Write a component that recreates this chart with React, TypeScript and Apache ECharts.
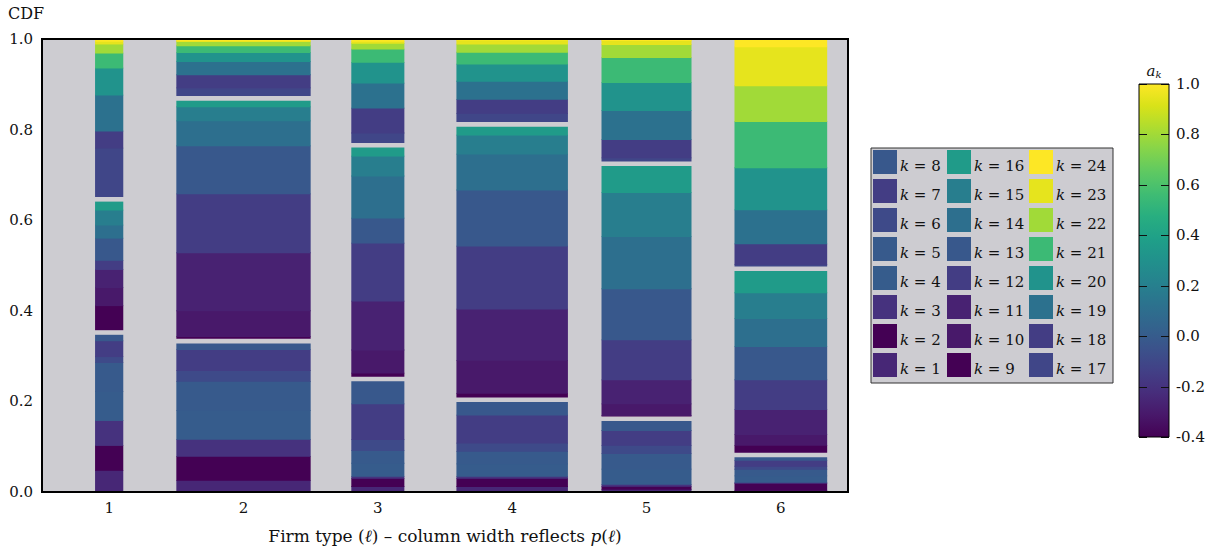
import React, { useEffect, useRef } from "react";
import * as echarts from "echarts";

// ---------------- data ----------------
const firmTypes = ["1", "2", "3", "4", "5", "6"];
// column width (share of one category band), reflects p(ℓ)
const colWidth = [0.21, 1.0, 0.395, 0.83, 0.67, 0.69];
const kValues = Array.from({ length: 24 }, (_, i) => i + 1);
// a_k for k = 1..24
const aK = [
  -0.25, -0.4, -0.2, 0.0, -0.01, -0.09, -0.15, -0.02,
  -0.4, -0.31, -0.27, -0.15, -0.02, 0.11, 0.19, 0.36,
  -0.11, -0.15, 0.12, 0.31, 0.55, 0.8, 0.945, 1.0,
];
// share of each k within firm type ℓ (k = 1..24)
const col1 = [0.0486, 0.055, 0.055, 0.064, 0.064, 0.013, 0.035, 0.0175, 0.06, 0.04, 0.04, 0.02, 0.049, 0.029, 0.033, 0.023, 0.114, 0.0375, 0.0795, 0.0596, 0.033, 0.02, 0.006, 0.005];
const col2 = [0.0265, 0.053, 0.0375, 0.064, 0.064, 0.024, 0.046, 0.018, 0.011, 0.057, 0.128, 0.13, 0.106, 0.055, 0.031, 0.018, 0.024, 0.029, 0.029, 0.02, 0.015, 0.009, 0.002, 0.002];
const col3 = [0.013, 0.018, 0.0044, 0.029, 0.028, 0.024, 0.079, 0.054, 0.014, 0.051, 0.108, 0.128, 0.055, 0.093, 0.044, 0.023, 0.028, 0.055, 0.055, 0.046, 0.029, 0.013, 0.0044, 0.002];
const col4 = [0.013, 0.018, 0.0044, 0.0276, 0.0276, 0.018, 0.062, 0.033, 0.015, 0.073, 0.113, 0.139, 0.124, 0.079, 0.042, 0.023, 0.025, 0.031, 0.04, 0.038, 0.026, 0.018, 0.009, 0.002];
const col5 = [0.0066, 0.0066, 0.0044, 0.034, 0.034, 0.018, 0.033, 0.025, 0.008, 0.026, 0.053, 0.088, 0.113, 0.115, 0.097, 0.063, 0.014, 0.04, 0.064, 0.062, 0.055, 0.029, 0.009, 0.002];
const col6 = [0.0044, 0.0155, 0.0022, 0.0145, 0.0145, 0.0066, 0.013, 0.011, 0.022, 0.024, 0.055, 0.066, 0.073, 0.062, 0.057, 0.052, 0.01, 0.046, 0.075, 0.093, 0.102, 0.079, 0.086, 0.015];
const columns = [col1, col2, col3, col4, col5, col6];
const cbarTicks = [-0.4, -0.2, 0.0, 0.2, 0.4, 0.6, 0.8, 1.0];

// ---------------- colormap ----------------
const VIRIDIS = ["#440154", "#48186a", "#472d7b", "#424086", "#3b528b", "#33638d", "#2c728e", "#26828e", "#21918c", "#1fa088", "#28ae80", "#3fbc73", "#5ec962", "#84d44b", "#addc30", "#d8e219", "#fde725"];
const A_MIN = cbarTicks[0];
const A_MAX = cbarTicks[cbarTicks.length - 1];
function hexToRgb(h: string) {
  return [parseInt(h.slice(1, 3), 16), parseInt(h.slice(3, 5), 16), parseInt(h.slice(5, 7), 16)];
}
function viridis(a: number) {
  let t = (a - A_MIN) / (A_MAX - A_MIN);
  t = Math.max(0, Math.min(1, t));
  const pos = t * (VIRIDIS.length - 1);
  const i = Math.min(VIRIDIS.length - 2, Math.floor(pos));
  const f = pos - i;
  const c0 = hexToRgb(VIRIDIS[i]);
  const c1 = hexToRgb(VIRIDIS[i + 1]);
  const c = c0.map((v, j) => Math.round(v + (c1[j] - v) * f));
  return `rgb(${c[0]},${c[1]},${c[2]})`;
}

const BG = "#cdccd1";
const FONT = "'DejaVu Serif', 'Liberation Serif', serif";
const FS = 15;
const GRID = { left: 42, top: 39, width: 806, height: 453 };
const CBAR = { left: 1139, top: 84, width: 30, height: 353 };
const fmt = (v: number) => (Math.abs(v) < 1e-9 ? "0.0" : v.toFixed(1));

export default function App() {
  const ref = useRef<HTMLDivElement>(null);
  useEffect(() => {
    if (!ref.current) return;
    const chart = echarts.init(ref.current, undefined, { renderer: "svg" });

    // segments: [ℓ index, start, end, k index]
    const segData: number[][] = [];
    const gapData: number[][] = [];
    columns.forEach((col, l) => {
      let cum = 0;
      col.forEach((v, k) => {
        segData.push([l, cum, cum + v, k]);
        cum += v;
        if (k === 7 || k === 15) gapData.push([l, cum]);
      });
    });

    const legendGraphics: any[] = [];
    const box = { x: 871, y: 148, w: 242, h: 235 };
    legendGraphics.push({
      type: "rect",
      shape: { x: box.x, y: box.y, width: box.w, height: box.h },
      style: { fill: BG, stroke: "#333", lineWidth: 1 },
      z: 10,
    });
    const colX = [873, 947, 1029];
    const txtX = [900, 974, 1056];
    kValues.forEach((k, idx) => {
      const c = Math.floor(idx / 8);
      const row = 7 - (idx % 8);
      const top = 150 + row * 29;
      legendGraphics.push({
        type: "rect",
        shape: { x: colX[c], y: top, width: 24, height: 24 },
        style: { fill: viridis(aK[idx]) },
        z: 11,
      });
      legendGraphics.push({
        type: "text",
        x: txtX[c],
        y: top + 16,
        style: {
          text: `{i|k} = ${k}`,
          fontFamily: FONT,
          fontSize: FS,
          fill: "#111",
          verticalAlign: "middle",
          rich: { i: { fontStyle: "italic", fontFamily: FONT, fontSize: FS, fill: "#111" } },
        },
        z: 11,
      });
    });

    const option: any = {
      animation: false,
      textStyle: { fontFamily: FONT },
      grid: [
        { ...GRID, show: true, backgroundColor: BG, borderWidth: 0 },
        { ...CBAR, show: false },
      ],
      xAxis: [
        {
          type: "category",
          gridIndex: 0,
          data: firmTypes,
          axisLine: { show: false },
          axisTick: { show: false },
          axisLabel: { fontFamily: FONT, fontSize: FS, color: "#111", margin: 8 },
          splitLine: { show: false },
          name: "Firm type ({i|ℓ}) – column width reflects {i|p}({i|ℓ})",
          nameLocation: "middle",
          nameGap: 35,
          nameTextStyle: {
            fontFamily: FONT,
            fontSize: 17,
            color: "#111",
            rich: { i: { fontStyle: "italic", fontFamily: FONT, fontSize: 17, color: "#111" } },
          },
        },
        { type: "value", gridIndex: 1, min: 0, max: 1, show: false },
      ],
      yAxis: [
        {
          type: "value",
          gridIndex: 0,
          min: 0,
          max: 1,
          interval: 0.2,
          axisLine: { show: false },
          axisTick: { show: false },
          splitLine: { show: false },
          axisLabel: { fontFamily: FONT, fontSize: FS, color: "#111", margin: 9, formatter: fmt },
        },
        {
          type: "value",
          gridIndex: 1,
          position: "right",
          min: A_MIN,
          max: A_MAX,
          interval: 0.2,
          axisLine: { show: false, onZero: false },
          axisTick: { show: false },
          splitLine: { show: false },
          axisLabel: { fontFamily: FONT, fontSize: FS, color: "#111", margin: 7, formatter: fmt },
        },
      ],
      series: [
        {
          type: "custom",
          xAxisIndex: 0,
          yAxisIndex: 0,
          clip: true,
          data: segData,
          renderItem: (params: any, api: any) => {
            const l = api.value(0);
            const y0 = api.value(1);
            const y1 = api.value(2);
            const k = api.value(3);
            const c = api.coord([l, 0]);
            const band = api.size([1, 0])[0];
            const w = band * colWidth[l];
            const top = api.coord([l, y1])[1];
            const bottom = api.coord([l, y0])[1] + (k > 0 ? 0.8 : 0);
            return {
              type: "rect",
              shape: { x: c[0] - w / 2, y: top, width: w, height: bottom - top },
              style: { fill: viridis(aK[k]) },
            };
          },
        },
        {
          type: "custom",
          xAxisIndex: 0,
          yAxisIndex: 0,
          clip: true,
          z: 3,
          data: gapData,
          renderItem: (params: any, api: any) => {
            const l = api.value(0);
            const c = api.coord([l, api.value(1)]);
            const band = api.size([1, 0])[0];
            const w = band * colWidth[l] + 2;
            return {
              type: "rect",
              shape: { x: c[0] - w / 2, y: c[1] - 2.3, width: w, height: 4.6 },
              style: { fill: BG },
            };
          },
        },
        {
          type: "custom",
          xAxisIndex: 1,
          yAxisIndex: 1,
          z: 1,
          data: [[0, A_MIN, A_MAX]],
          renderItem: (params: any, api: any) => {
            const p0 = api.coord([0, api.value(1)]);
            const p1 = api.coord([1, api.value(2)]);
            return {
              type: "rect",
              shape: { x: p0[0], y: p1[1], width: p1[0] - p0[0], height: p0[1] - p1[1] },
              style: {
                fill: {
                  type: "linear",
                  x: 0, y: 1, x2: 0, y2: 0,
                  colorStops: VIRIDIS.map((c, i) => ({ offset: i / (VIRIDIS.length - 1), color: c })),
                },
              },
            };
          },
        },
        {
          type: "custom",
          xAxisIndex: 1,
          yAxisIndex: 1,
          z: 4,
          data: cbarTicks.map((t) => [0, t]),
          renderItem: (params: any, api: any) => {
            const pL = api.coord([0, api.value(1)]);
            const pR = api.coord([1, api.value(1)]);
            const y = Math.round(pL[1]) + 0.5;
            return {
              type: "group",
              children: [
                { type: "line", shape: { x1: pL[0], y1: y, x2: pL[0] + 8, y2: y }, style: { stroke: "#111", lineWidth: 1 } },
                { type: "line", shape: { x1: pR[0] - 8, y1: y, x2: pR[0], y2: y }, style: { stroke: "#111", lineWidth: 1 } },
              ],
            };
          },
        },
      ],
      graphic: [
        {
          type: "rect",
          shape: { x: GRID.left, y: GRID.top, width: GRID.width, height: GRID.height },
          style: { fill: "none", stroke: "#000", lineWidth: 2 },
          z: 100,
        },
        {
          type: "rect",
          shape: { x: CBAR.left, y: CBAR.top, width: CBAR.width, height: CBAR.height },
          style: { fill: "none", stroke: "#000", lineWidth: 1 },
          z: 100,
        },
        {
          type: "text",
          x: 8,
          y: 13,
          style: { text: "CDF", fontFamily: FONT, fontSize: 16, fill: "#111", verticalAlign: "middle" },
        },
        {
          type: "text",
          x: 1154,
          y: 71,
          style: {
            text: "{i|a}{s|k}",
            fontFamily: FONT,
            align: "center",
            verticalAlign: "middle",
            rich: {
              i: { fontStyle: "italic", fontFamily: FONT, fontSize: FS, fill: "#111" },
              s: { fontStyle: "italic", fontFamily: FONT, fontSize: 10, fill: "#111", padding: [6, 0, 0, 0] },
            },
          },
        },
        ...legendGraphics,
      ],
    };
    chart.setOption(option);
    return () => chart.dispose();
  }, []);
  return <div ref={ref} style={{ position: "absolute", left: 0, top: 0, width: 1215, height: 552 }} />;
}
